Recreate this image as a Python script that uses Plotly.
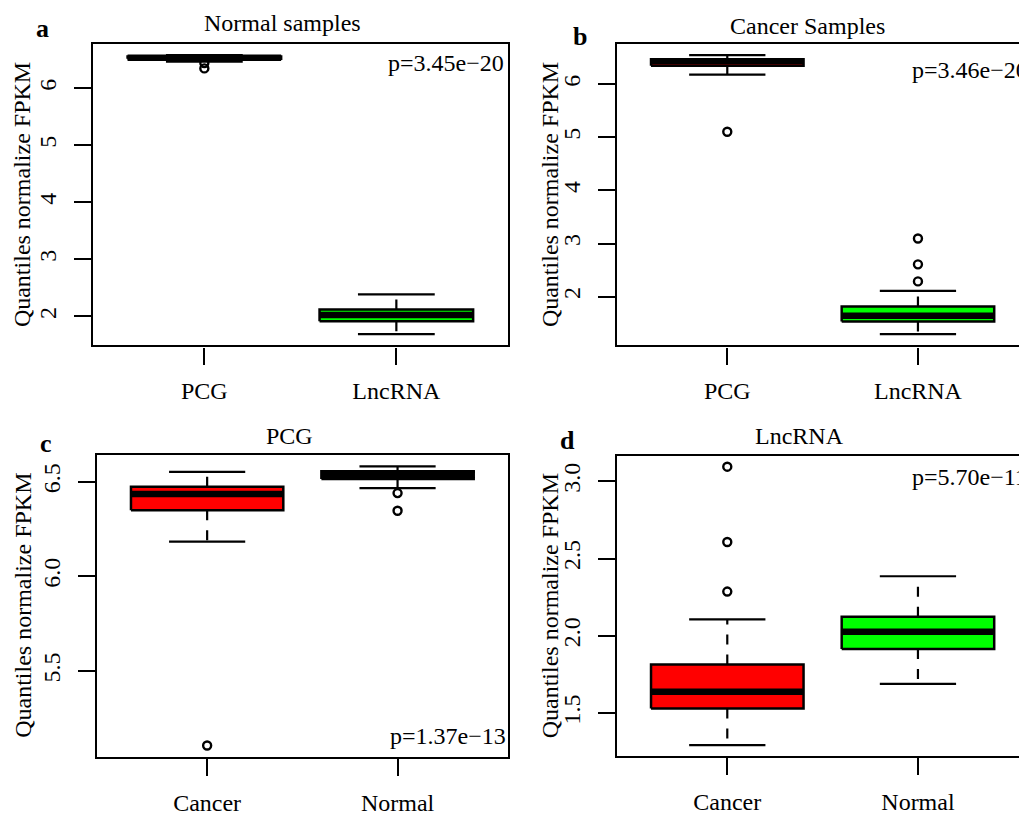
import plotly.graph_objects as go

W, H = 1019, 816

# Five-number summaries: lower whisker, Q1, median, Q3, upper whisker
pcg_normal = [6.466, 6.515, 6.535, 6.555, 6.581]
pcg_cancer = [6.184, 6.349, 6.435, 6.473, 6.552]
lnc_normal = [1.690, 1.915, 2.027, 2.124, 2.386]
lnc_cancer = [1.293, 1.530, 1.638, 1.815, 2.107]

# Points beyond the whiskers
pcg_normal_out = [6.440, 6.347]
pcg_cancer_out = [5.107]
lnc_normal_out = []
lnc_cancer_out = [3.095, 2.608, 2.287]

gene_types = ["PCG", "LncRNA"]
sample_types = ["Cancer", "Normal"]

panel_titles = ["Normal samples", "Cancer Samples", "PCG", "LncRNA"]
panel_letters = ["a", "b", "c", "d"]
p_values = ["p=3.45e\u221220", "p=3.46e\u221220", "p=1.37e\u221213", "p=5.70e\u221211"]

yticks_a = [2, 3, 4, 5, 6]
yticks_b = [2, 3, 4, 5, 6]
yticks_c = [5.5, 6.0, 6.5]
yticks_d = [1.5, 2.0, 2.5, 3.0]

RED = "#FF0000"
GREEN = "#00FF00"
FONT = "Liberation Serif"

panels = [
    dict(cats=gene_types, stats=[pcg_normal, lnc_normal], outs=[pcg_normal_out, lnc_normal_out],
         fills=[RED, GREEN], yticks=yticks_a, fmt="d",
         frame=(93, 507.7, 45, 354), xmax=2.58, full=True),
    dict(cats=gene_types, stats=[pcg_cancer, lnc_cancer], outs=[pcg_cancer_out, lnc_cancer_out],
         fills=[RED, GREEN], yticks=yticks_b, fmt="d",
         frame=(616.7, 1019, 45, 354), xmax=2.53, full=False),
    dict(cats=sample_types, stats=[pcg_cancer, pcg_normal], outs=[pcg_cancer_out, pcg_normal_out],
         fills=[RED, GREEN], yticks=yticks_c, fmt=".1f",
         frame=(96.7, 508, 466.7, 775.7), xmax=2.58, full=True),
    dict(cats=sample_types, stats=[lnc_cancer, lnc_normal], outs=[lnc_cancer_out, lnc_normal_out],
         fills=[RED, GREEN], yticks=yticks_d, fmt=".1f",
         frame=(616.7, 1019, 467, 775.3), xmax=2.53, full=False),
]

fig = go.Figure()
layout = {}

for k, p in enumerate(panels):
    n = k + 1
    xa = "x" if n == 1 else f"x{n}"
    ya = "y" if n == 1 else f"y{n}"
    for i, (s, out, fc) in enumerate(zip(p["stats"], p["outs"], p["fills"])):
        pos = i + 1
        lo, q1, med, q3, hi = s
        # dashed whiskers, drawn outward from the box
        fig.add_trace(go.Scatter(
            x=[pos, pos, None, pos, pos], y=[q3, hi, None, q1, lo],
            mode="lines", line=dict(color="black", width=2.2, dash="10px,10px"),
            xaxis=xa, yaxis=ya, hoverinfo="skip", showlegend=False))
        # staples
        fig.add_trace(go.Scatter(
            x=[pos - 0.2, pos + 0.2, None, pos - 0.2, pos + 0.2], y=[hi, hi, None, lo, lo],
            mode="lines", line=dict(color="black", width=2.2),
            xaxis=xa, yaxis=ya, hoverinfo="skip", showlegend=False))
        # box
        fig.add_trace(go.Scatter(
            x=[pos - 0.4, pos + 0.4, pos + 0.4, pos - 0.4, pos - 0.4],
            y=[q1, q1, q3, q3, q1], mode="lines", fill="toself", fillcolor=fc,
            line=dict(color="black", width=2.5),
            xaxis=xa, yaxis=ya, hoverinfo="skip", showlegend=False))
        # median
        fig.add_trace(go.Scatter(
            x=[pos - 0.4, pos + 0.4], y=[med, med], mode="lines",
            line=dict(color="black", width=6.5),
            xaxis=xa, yaxis=ya, hoverinfo="skip", showlegend=False))
        # outliers
        if out:
            fig.add_trace(go.Scatter(
                x=[pos] * len(out), y=out, mode="markers",
                marker=dict(symbol="circle-open", size=8, color="black", line=dict(width=2.4)),
                xaxis=xa, yaxis=ya, hoverinfo="skip", showlegend=False))

    # y range padded by 4% of the data span
    vals = [v for s in p["stats"] for v in s] + [v for o in p["outs"] for v in o]
    lo_all, hi_all = min(vals), max(vals)
    pad = 0.04 * (hi_all - lo_all)

    x0, x1, y0, y1 = p["frame"]
    xkey = "xaxis" if n == 1 else f"xaxis{n}"
    ykey = "yaxis" if n == 1 else f"yaxis{n}"
    layout[xkey] = dict(
        domain=[x0 / W, min(x1 / W, 1.0)], range=[0.42, p["xmax"]], anchor=ya,
        tickvals=[1, 2], ticktext=p["cats"], ticks="outside", ticklen=17, tickwidth=2.2,
        tickcolor="black", showline=True, linecolor="black", linewidth=2.4, mirror=True,
        showgrid=False, zeroline=False, ticklabelstandoff=6,
        tickfont=dict(family=FONT, size=24, color="black"))
    layout[ykey] = dict(
        domain=[1 - y1 / H, 1 - y0 / H], range=[lo_all - pad, hi_all + pad], anchor=xa,
        tickvals=p["yticks"], tickformat=p["fmt"], tickangle=-90,
        ticks="outside", ticklen=17, tickwidth=2.2, tickcolor="black",
        showline=True, linecolor="black", linewidth=2.4, mirror=p["full"],
        showgrid=False, zeroline=False, ticklabelstandoff=8,
        tickfont=dict(family=FONT, size=24, color="black"))

# text placements in pixels: title centre/middle, letter centre/middle, p-value left/middle, y-label centre
title_pos = [(282, 24), (807, 27), (289, 447), (799, 447)]
letter_pos = [(42.5, 29), (580, 37), (46, 455), (567, 452)]
pval_pos = [(386, 65), (910, 72), (388, 755), (910, 489)]
ylab_pos = [(21.5, 199.5), (549.5, 199.5), (23, 621), (549.5, 621)]

annotations = []
for k in range(4):
    tx, ty = title_pos[k]
    annotations.append(dict(text=panel_titles[k], x=tx / W, y=1 - ty / H, xref="paper", yref="paper",
                            xanchor="center", yanchor="middle", showarrow=False,
                            font=dict(family=FONT, size=24, color="black")))
    lx, ly = letter_pos[k]
    annotations.append(dict(text=f"<b>{panel_letters[k]}</b>", x=lx / W, y=1 - ly / H,
                            xref="paper", yref="paper", xanchor="center", yanchor="middle",
                            showarrow=False, font=dict(family=FONT, size=26, color="black")))
    px_, py_ = pval_pos[k]
    annotations.append(dict(text=p_values[k], x=px_ / W, y=1 - py_ / H, xref="paper", yref="paper",
                            xanchor="left", yanchor="middle", showarrow=False,
                            font=dict(family=FONT, size=24, color="black")))
    qx, qy = ylab_pos[k]
    annotations.append(dict(text="Quantiles normalize FPKM", x=qx / W, y=1 - qy / H,
                            xref="paper", yref="paper", xanchor="center", yanchor="middle",
                            textangle=-90, showarrow=False,
                            font=dict(family=FONT, size=24, color="black")))

fig.update_layout(
    width=W, height=H, margin=dict(l=0, r=0, t=0, b=0),
    paper_bgcolor="white", plot_bgcolor="white", showlegend=False,
    annotations=annotations, **layout)

fig.write_html("out.html", config={"displayModeBar": False})
